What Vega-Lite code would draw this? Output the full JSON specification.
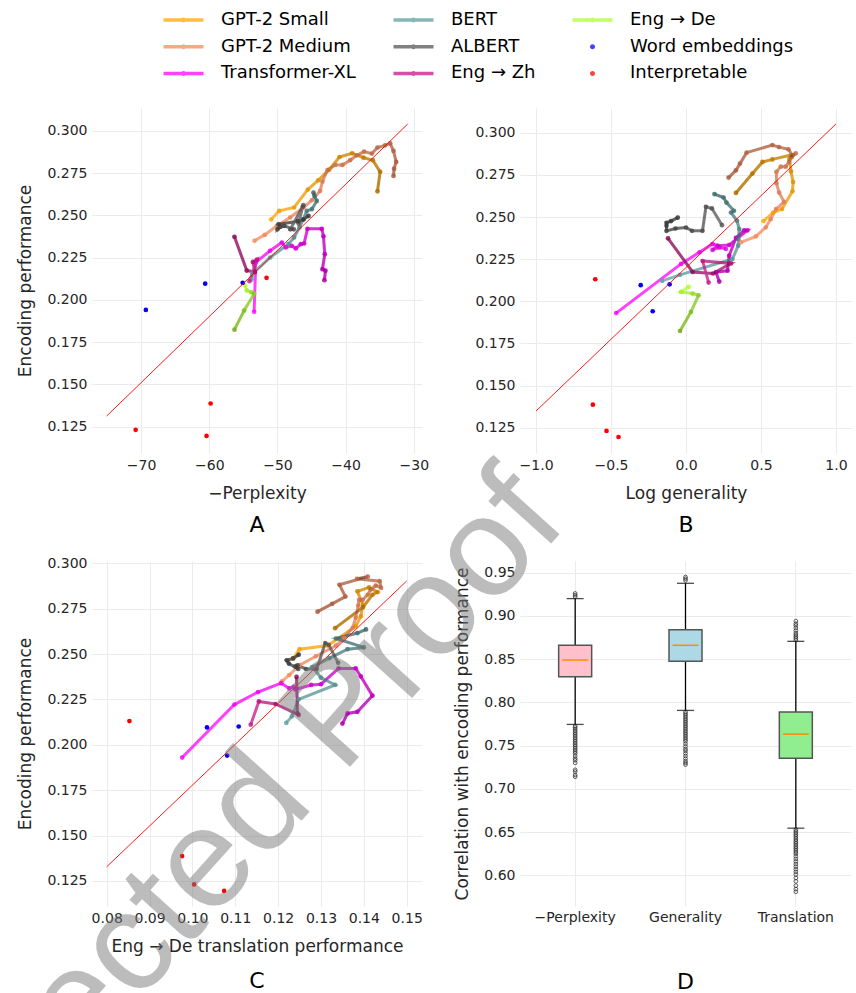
{
"$schema":"https://vega.github.io/schema/vega-lite/v6.json",
"autosize":{"type":"none"},
"padding":{"left":92,"top":108,"right":764,"bottom":885},
"title":{"text":"Corrected Proof","font":"Liberation Sans","fontSize":142,"fontWeight":"normal","color":"rgba(122,122,122,0.5)","angle":-48,"align":"center","baseline":"middle","anchor":"start","frame":"group","orient":"top","offset":-846,"dx":-558,"dy":650.4},
"config":{
 "view":{"stroke":null},
 "font":"DejaVu Sans",
 "axis":{"grid":true,"gridColor":"#EBEBEB","gridWidth":1,"domain":false,"ticks":false,"tickSize":0,"labelFontSize":14,"labelColor":"#262626","labelPadding":5,"titleFontSize":17,"titleFontWeight":"normal","titleColor":"#262626","titlePadding":13},
 "axisY":{"titlePadding":12},
 "title":{"fontSize":22,"fontWeight":"normal","orient":"bottom","color":"#000000","anchor":"middle"}
},
"datasets":{
 "layers":[
  {"m":"GPT-2 Small","l":1,"ppl":-50.93,"gen":0.517,"tr":0.1235,"enc":0.2476},
  {"m":"GPT-2 Small","l":2,"ppl":-49.76,"gen":0.581,"tr":0.125,"enc":0.2527},
  {"m":"GPT-2 Small","l":3,"ppl":-47.56,"gen":0.64,"tr":0.1316,"enc":0.2547},
  {"m":"GPT-2 Small","l":4,"ppl":-45.55,"gen":0.71,"tr":0.1381,"enc":0.2653},
  {"m":"GPT-2 Small","l":5,"ppl":-44.03,"gen":0.714,"tr":0.1393,"enc":0.2708},
  {"m":"GPT-2 Small","l":6,"ppl":-42.42,"gen":0.7,"tr":0.1398,"enc":0.2771},
  {"m":"GPT-2 Small","l":7,"ppl":-40.9,"gen":0.69,"tr":0.1385,"enc":0.2846},
  {"m":"GPT-2 Small","l":8,"ppl":-39.05,"gen":0.7,"tr":0.1412,"enc":0.2868},
  {"m":"GPT-2 Small","l":9,"ppl":-37.38,"gen":0.576,"tr":0.1432,"enc":0.2842},
  {"m":"GPT-2 Small","l":10,"ppl":-36.01,"gen":0.51,"tr":0.142,"enc":0.2827},
  {"m":"GPT-2 Small","l":11,"ppl":-34.94,"gen":0.443,"tr":0.1398,"enc":0.2758},
  {"m":"GPT-2 Small","l":12,"ppl":-35.33,"gen":0.333,"tr":0.1333,"enc":0.2643},
  {"m":"GPT-2 Medium","l":1,"ppl":-53.37,"gen":0.366,"tr":0.1209,"enc":0.235},
  {"m":"GPT-2 Medium","l":2,"ppl":-51.86,"gen":0.466,"tr":0.1226,"enc":0.2385},
  {"m":"GPT-2 Medium","l":3,"ppl":-50.1,"gen":0.532,"tr":0.125,"enc":0.2439},
  {"m":"GPT-2 Medium","l":4,"ppl":-48.14,"gen":0.565,"tr":0.1288,"enc":0.2488},
  {"m":"GPT-2 Medium","l":5,"ppl":-46.19,"gen":0.6,"tr":0.1335,"enc":0.2547},
  {"m":"GPT-2 Medium","l":6,"ppl":-44.96,"gen":0.654,"tr":0.1354,"enc":0.259},
  {"m":"GPT-2 Medium","l":7,"ppl":-43.74,"gen":0.621,"tr":0.1374,"enc":0.2645},
  {"m":"GPT-2 Medium","l":8,"ppl":-43.4,"gen":0.603,"tr":0.1381,"enc":0.2701},
  {"m":"GPT-2 Medium","l":9,"ppl":-42.67,"gen":0.603,"tr":0.1387,"enc":0.2768},
  {"m":"GPT-2 Medium","l":10,"ppl":-41.54,"gen":0.632,"tr":0.1389,"enc":0.2799},
  {"m":"GPT-2 Medium","l":11,"ppl":-40.46,"gen":0.665,"tr":0.1397,"enc":0.2799},
  {"m":"GPT-2 Medium","l":12,"ppl":-39.34,"gen":0.687,"tr":0.1409,"enc":0.2827},
  {"m":"GPT-2 Medium","l":13,"ppl":-38.36,"gen":0.705,"tr":0.1416,"enc":0.2856},
  {"m":"GPT-2 Medium","l":14,"ppl":-37.29,"gen":0.732,"tr":0.1428,"enc":0.2878},
  {"m":"GPT-2 Medium","l":15,"ppl":-36.16,"gen":0.71,"tr":0.144,"enc":0.2866},
  {"m":"GPT-2 Medium","l":16,"ppl":-35.33,"gen":0.683,"tr":0.1437,"enc":0.2902},
  {"m":"GPT-2 Medium","l":17,"ppl":-34.21,"gen":0.62,"tr":0.1384,"enc":0.2915},
  {"m":"GPT-2 Medium","l":18,"ppl":-33.47,"gen":0.576,"tr":0.1409,"enc":0.2927},
  {"m":"GPT-2 Medium","l":19,"ppl":-32.98,"gen":0.404,"tr":0.1343,"enc":0.2882},
  {"m":"GPT-2 Medium","l":20,"ppl":-32.59,"gen":0.36,"tr":0.1357,"enc":0.2817},
  {"m":"GPT-2 Medium","l":21,"ppl":-32.89,"gen":0.333,"tr":0.1326,"enc":0.2777},
  {"m":"GPT-2 Medium","l":22,"ppl":-32.98,"gen":0.284,"tr":0.1292,"enc":0.2734},
  {"m":"Transformer-XL","l":1,"ppl":-53.42,"gen":-0.466,"tr":0.0976,"enc":0.193},
  {"m":"Transformer-XL","l":2,"ppl":-53.18,"gen":-0.033,"tr":0.1098,"enc":0.2222},
  {"m":"Transformer-XL","l":3,"ppl":-51.08,"gen":0.09,"tr":0.1153,"enc":0.2291},
  {"m":"Transformer-XL","l":4,"ppl":-49.36,"gen":0.177,"tr":0.1207,"enc":0.234},
  {"m":"Transformer-XL","l":5,"ppl":-48.78,"gen":0.266,"tr":0.1226,"enc":0.2311},
  {"m":"Transformer-XL","l":6,"ppl":-47.9,"gen":0.222,"tr":0.1236,"enc":0.232},
  {"m":"Transformer-XL","l":7,"ppl":-47.31,"gen":0.177,"tr":0.124,"enc":0.2305},
  {"m":"Transformer-XL","l":8,"ppl":-46.58,"gen":0.21,"tr":0.1277,"enc":0.233},
  {"m":"Transformer-XL","l":9,"ppl":-46.09,"gen":0.288,"tr":0.13,"enc":0.2334},
  {"m":"Transformer-XL","l":10,"ppl":-45.6,"gen":0.41,"tr":0.1341,"enc":0.2421},
  {"m":"Transformer-XL","l":11,"ppl":-43.5,"gen":0.388,"tr":0.1381,"enc":0.2421},
  {"m":"Transformer-XL","l":12,"ppl":-43.25,"gen":0.333,"tr":0.1393,"enc":0.2377},
  {"m":"Transformer-XL","l":13,"ppl":-43.06,"gen":0.288,"tr":0.142,"enc":0.2271},
  {"m":"Transformer-XL","l":14,"ppl":-43.4,"gen":0.277,"tr":0.1385,"enc":0.2182},
  {"m":"Transformer-XL","l":15,"ppl":-42.96,"gen":0.2,"tr":0.1362,"enc":0.2173},
  {"m":"Transformer-XL","l":16,"ppl":-43.11,"gen":0.222,"tr":0.135,"enc":0.2117},
  {"m":"BERT","l":1,"ppl":-53.8,"gen":-0.16,"tr":0.1219,"enc":0.2121},
  {"m":"BERT","l":2,"ppl":-53.62,"gen":-0.04,"tr":0.1232,"enc":0.2157},
  {"m":"BERT","l":3,"ppl":-51.08,"gen":0.31,"tr":0.1248,"enc":0.2251},
  {"m":"BERT","l":4,"ppl":-48.39,"gen":0.348,"tr":0.1333,"enc":0.233},
  {"m":"BERT","l":5,"ppl":-47.56,"gen":0.35,"tr":0.13,"enc":0.237},
  {"m":"BERT","l":6,"ppl":-46.78,"gen":0.355,"tr":0.128,"enc":0.2429},
  {"m":"BERT","l":7,"ppl":-46.19,"gen":0.34,"tr":0.132,"enc":0.2478},
  {"m":"BERT","l":8,"ppl":-45.7,"gen":0.3,"tr":0.1362,"enc":0.2527},
  {"m":"BERT","l":9,"ppl":-44.96,"gen":0.32,"tr":0.14,"enc":0.2537},
  {"m":"BERT","l":10,"ppl":-44.23,"gen":0.27,"tr":0.1335,"enc":0.2586},
  {"m":"BERT","l":11,"ppl":-44.57,"gen":0.25,"tr":0.1385,"enc":0.2616},
  {"m":"BERT","l":12,"ppl":-44.72,"gen":0.19,"tr":0.1405,"enc":0.2636},
  {"m":"ALBERT","l":1,"ppl":-46.9,"gen":0.24,"tr":0.134,"enc":0.2452},
  {"m":"ALBERT","l":2,"ppl":-46.3,"gen":0.173,"tr":0.1318,"enc":0.2551},
  {"m":"ALBERT","l":3,"ppl":-46.2,"gen":0.133,"tr":0.131,"enc":0.2561},
  {"m":"ALBERT","l":4,"ppl":-48.1,"gen":0.11,"tr":0.129,"enc":0.2418},
  {"m":"ALBERT","l":5,"ppl":-47.6,"gen":0.04,"tr":0.1265,"enc":0.2418},
  {"m":"ALBERT","l":6,"ppl":-49.0,"gen":0.0,"tr":0.1245,"enc":0.2438},
  {"m":"ALBERT","l":7,"ppl":-49.6,"gen":-0.07,"tr":0.124,"enc":0.2432},
  {"m":"ALBERT","l":8,"ppl":-50.0,"gen":-0.13,"tr":0.1247,"enc":0.2418},
  {"m":"ALBERT","l":9,"ppl":-49.85,"gen":-0.13,"tr":0.1225,"enc":0.2448},
  {"m":"ALBERT","l":10,"ppl":-47.0,"gen":-0.13,"tr":0.122,"enc":0.2466},
  {"m":"ALBERT","l":11,"ppl":-46.2,"gen":-0.1,"tr":0.1235,"enc":0.2476},
  {"m":"ALBERT","l":12,"ppl":-45.45,"gen":-0.055,"tr":0.1248,"enc":0.2497},
  {"m":"Eng → Zh","l":1,"ppl":-54.1,"gen":0.151,"tr":0.1136,"enc":0.2111},
  {"m":"Eng → Zh","l":2,"ppl":-53.0,"gen":0.111,"tr":0.1155,"enc":0.2239},
  {"m":"Eng → Zh","l":3,"ppl":-53.6,"gen":0.3,"tr":0.1194,"enc":0.2225},
  {"m":"Eng → Zh","l":4,"ppl":-53.3,"gen":0.18,"tr":0.1248,"enc":0.2165},
  {"m":"Eng → Zh","l":5,"ppl":-54.5,"gen":0.044,"tr":0.1245,"enc":0.2174},
  {"m":"Eng → Zh","l":6,"ppl":-56.31,"gen":-0.12,"tr":0.1243,"enc":0.2374},
  {"m":"Eng → De","l":1,"ppl":-54.74,"gen":0.018,"tr":null,"enc":0.2086},
  {"m":"Eng → De","l":2,"ppl":-54.5,"gen":-0.033,"tr":null,"enc":0.2056},
  {"m":"Eng → De","l":3,"ppl":-53.86,"gen":0.044,"tr":null,"enc":0.2046},
  {"m":"Eng → De","l":4,"ppl":-53.42,"gen":0.084,"tr":null,"enc":0.2036},
  {"m":"Eng → De","l":5,"ppl":-54.89,"gen":0.033,"tr":null,"enc":0.1937},
  {"m":"Eng → De","l":6,"ppl":-56.31,"gen":-0.04,"tr":null,"enc":0.1824},
  {"m":"Word embeddings","l":1,"ppl":-60.6,"gen":-0.302,"tr":0.1034,"enc":0.2096},
  {"m":"Word embeddings","l":2,"ppl":-55.1,"gen":-0.109,"tr":0.1108,"enc":0.2101},
  {"m":"Word embeddings","l":3,"ppl":-69.3,"gen":-0.222,"tr":0.1081,"enc":0.1941},
  {"m":"Interpretable","l":1,"ppl":-51.6,"gen":-0.605,"tr":0.0853,"enc":0.2131},
  {"m":"Interpretable","l":2,"ppl":-59.8,"gen":-0.621,"tr":0.0976,"enc":0.1387},
  {"m":"Interpretable","l":3,"ppl":-70.8,"gen":-0.53,"tr":0.1004,"enc":0.1231},
  {"m":"Interpretable","l":4,"ppl":-60.4,"gen":-0.45,"tr":0.1074,"enc":0.1195}
 ],
 "fit":[
  {"p":"A","ppl":-75.04,"enc":0.1313},{"p":"A","ppl":-30.9,"enc":0.3041},
  {"p":"B","gen":-1.0,"enc":0.1349},{"p":"B","gen":1.0,"enc":0.3052},
  {"p":"C","tr":0.08,"enc":0.1328},{"p":"C","tr":0.15,"enc":0.2903}
 ],
 "box":[
  {"k":"−Perplexity","lo":0.7745,"q1":0.8296,"med":0.849,"q3":0.866,"hi":0.92},
  {"k":"Generality","lo":0.7907,"q1":0.8475,"med":0.866,"q3":0.884,"hi":0.9377},
  {"k":"Translation","lo":0.6545,"q1":0.7355,"med":0.7633,"q3":0.789,"hi":0.8706}
 ],
 "out":[
  {"k":"−Perplexity","v":0.922},{"k":"−Perplexity","v":0.924},{"k":"−Perplexity","v":0.926},
  {"k":"−Perplexity","v":0.7725},{"k":"−Perplexity","v":0.771},{"k":"−Perplexity","v":0.769},{"k":"−Perplexity","v":0.767},{"k":"−Perplexity","v":0.765},{"k":"−Perplexity","v":0.763},{"k":"−Perplexity","v":0.761},{"k":"−Perplexity","v":0.759},{"k":"−Perplexity","v":0.757},{"k":"−Perplexity","v":0.755},{"k":"−Perplexity","v":0.753},{"k":"−Perplexity","v":0.751},{"k":"−Perplexity","v":0.749},{"k":"−Perplexity","v":0.747},{"k":"−Perplexity","v":0.745},{"k":"−Perplexity","v":0.743},{"k":"−Perplexity","v":0.741},{"k":"−Perplexity","v":0.738},{"k":"−Perplexity","v":0.735},{"k":"−Perplexity","v":0.733},{"k":"−Perplexity","v":0.73},{"k":"−Perplexity","v":0.722},{"k":"−Perplexity","v":0.72},{"k":"−Perplexity","v":0.716},{"k":"−Perplexity","v":0.714},
  {"k":"Generality","v":0.941},{"k":"Generality","v":0.943},{"k":"Generality","v":0.945},
  {"k":"Generality","v":0.789},{"k":"Generality","v":0.787},{"k":"Generality","v":0.785},{"k":"Generality","v":0.783},{"k":"Generality","v":0.781},{"k":"Generality","v":0.779},{"k":"Generality","v":0.777},{"k":"Generality","v":0.775},{"k":"Generality","v":0.773},{"k":"Generality","v":0.771},{"k":"Generality","v":0.769},{"k":"Generality","v":0.767},{"k":"Generality","v":0.765},{"k":"Generality","v":0.763},{"k":"Generality","v":0.761},{"k":"Generality","v":0.759},{"k":"Generality","v":0.757},{"k":"Generality","v":0.755},{"k":"Generality","v":0.752},{"k":"Generality","v":0.749},{"k":"Generality","v":0.746},{"k":"Generality","v":0.744},{"k":"Generality","v":0.741},{"k":"Generality","v":0.738},{"k":"Generality","v":0.735},{"k":"Generality","v":0.732},{"k":"Generality","v":0.73},{"k":"Generality","v":0.728},
  {"k":"Translation","v":0.872},{"k":"Translation","v":0.874},{"k":"Translation","v":0.876},{"k":"Translation","v":0.878},{"k":"Translation","v":0.88},{"k":"Translation","v":0.883},{"k":"Translation","v":0.886},{"k":"Translation","v":0.889},{"k":"Translation","v":0.891},{"k":"Translation","v":0.894},
  {"k":"Translation","v":0.653},{"k":"Translation","v":0.651},{"k":"Translation","v":0.649},{"k":"Translation","v":0.647},{"k":"Translation","v":0.645},{"k":"Translation","v":0.643},{"k":"Translation","v":0.641},{"k":"Translation","v":0.639},{"k":"Translation","v":0.637},{"k":"Translation","v":0.635},{"k":"Translation","v":0.633},{"k":"Translation","v":0.631},{"k":"Translation","v":0.629},{"k":"Translation","v":0.627},{"k":"Translation","v":0.625},{"k":"Translation","v":0.622},{"k":"Translation","v":0.619},{"k":"Translation","v":0.616},{"k":"Translation","v":0.613},{"k":"Translation","v":0.61},{"k":"Translation","v":0.607},{"k":"Translation","v":0.604},{"k":"Translation","v":0.601},{"k":"Translation","v":0.597},{"k":"Translation","v":0.593},{"k":"Translation","v":0.588},{"k":"Translation","v":0.584},{"k":"Translation","v":0.581}
 ]
},
"columns":2,
"spacing":{"row":108,"column":98},
"bounds":"flush",
"concat":[
 {
  "width":330,"height":345,
  "title":{"text":"A","offset":14},
  "data":{"name":"layers"},
  "encoding":{
   "x":{"field":"ppl","type":"quantitative","scale":{"domain":[-77.2,-28.8],"nice":false,"zero":false},"axis":{"values":[-70,-60,-50,-40,-30],"format":"d","title":"−Perplexity"}},
   "y":{"field":"enc","type":"quantitative","scale":{"domain":[0.1094,0.3136],"nice":false,"zero":false},"axis":{"values":[0.125,0.15,0.175,0.2,0.225,0.25,0.275,0.3],"format":".3f","title":"Encoding performance"}}
  },
  "layer":[
   {"transform":[{"filter":"false"}],"mark":{"type":"point","filled":true},
    "encoding":{
     "color":{"field":"m","type":"nominal","scale":{"domain":["GPT-2 Small","GPT-2 Medium","Transformer-XL","BERT","ALBERT","Eng → Zh","Eng → De","Word embeddings","Interpretable"],"range":["#FFA500","#F58B5F","#FF00FF","#5F9EA0","#555555","#C71585","#ADFF2F","#0000FF","#FF0000"]},
      "legend":{"title":null,"orient":"none","legendX":82.5,"legendY":-97,"columns":3,"columnPadding":37,"rowPadding":8.7,"labelFontSize":18,"labelColor":"#000000","labelOffset":28.5,"symbolSize":100,"symbolStrokeWidth":0,"padding":0,"labelLimit":300}},
     "shape":{"field":"m","type":"nominal","scale":{"domain":["GPT-2 Small","GPT-2 Medium","Transformer-XL","BERT","ALBERT","Eng → Zh","Eng → De","Word embeddings","Interpretable"],"range":["M-4,-0.35H4V0.35H-4Z M-0.5,0A0.5,0.5,0,1,1,0.5,0A0.5,0.5,0,1,1,-0.5,0Z","M-4,-0.35H4V0.35H-4Z M-0.5,0A0.5,0.5,0,1,1,0.5,0A0.5,0.5,0,1,1,-0.5,0Z","M-4,-0.35H4V0.35H-4Z M-0.5,0A0.5,0.5,0,1,1,0.5,0A0.5,0.5,0,1,1,-0.5,0Z","M-4,-0.35H4V0.35H-4Z M-0.5,0A0.5,0.5,0,1,1,0.5,0A0.5,0.5,0,1,1,-0.5,0Z","M-4,-0.35H4V0.35H-4Z M-0.5,0A0.5,0.5,0,1,1,0.5,0A0.5,0.5,0,1,1,-0.5,0Z","M-4,-0.35H4V0.35H-4Z M-0.5,0A0.5,0.5,0,1,1,0.5,0A0.5,0.5,0,1,1,-0.5,0Z","M-4,-0.35H4V0.35H-4Z M-0.5,0A0.5,0.5,0,1,1,0.5,0A0.5,0.5,0,1,1,-0.5,0Z","M-0.5,0A0.5,0.5,0,1,1,0.5,0A0.5,0.5,0,1,1,-0.5,0Z","M-0.5,0A0.5,0.5,0,1,1,0.5,0A0.5,0.5,0,1,1,-0.5,0Z"]},
      "legend":{"title":null,"orient":"none","legendX":82.5,"legendY":-97,"columns":3,"columnPadding":37,"rowPadding":8.7,"labelFontSize":18,"labelColor":"#000000","labelOffset":28.5,"symbolSize":100,"symbolStrokeWidth":0,"padding":0,"labelLimit":300}},
     "opacity":{"field":"m","type":"nominal","scale":{"domain":["GPT-2 Small","GPT-2 Medium","Transformer-XL","BERT","ALBERT","Eng → Zh","Eng → De","Word embeddings","Interpretable"],"range":[0.75,0.75,0.75,0.6,0.75,0.75,0.75,1,1]},
      "legend":{"title":null,"orient":"none","legendX":82.5,"legendY":-97,"columns":3,"columnPadding":37,"rowPadding":8.7,"labelFontSize":18,"labelColor":"#000000","labelOffset":28.5,"symbolSize":100,"symbolStrokeWidth":0,"padding":0,"labelLimit":300}}
    }},
   {"transform":[{"filter":"datum.m != 'Word embeddings' && datum.m != 'Interpretable'"}],"mark":{"type":"line","strokeWidth":3,"opacity":0.75},
    "encoding":{"color":{"field":"m","type":"nominal","legend":null},"order":{"field":"l","type":"quantitative"}}},
   {"transform":[{"filter":"datum.m != 'Word embeddings' && datum.m != 'Interpretable'"},{"window":[{"op":"lead","field":"ppl","as":"x2v"},{"op":"lead","field":"enc","as":"y2v"}],"groupby":["m"],"sort":[{"field":"l","order":"ascending"}]},{"joinaggregate":[{"op":"max","field":"l","as":"n"}],"groupby":["m"]},{"calculate":"(datum.l-1)/(datum.n-1)","as":"frac"},{"filter":"datum.x2v != null"}],
    "mark":{"type":"rule","color":"#000000","strokeWidth":3},
    "encoding":{"x2":{"field":"x2v"},"y2":{"field":"y2v"},"strokeOpacity":{"field":"frac","type":"quantitative","scale":{"domain":[0,1],"range":[0,0.28]},"legend":null}}},
   {"transform":[{"filter":"datum.m != 'Word embeddings' && datum.m != 'Interpretable'"}],"mark":{"type":"circle","size":22,"opacity":0.8},
    "encoding":{"color":{"field":"m","type":"nominal","legend":null}}},
   {"transform":[{"filter":"datum.m != 'Word embeddings' && datum.m != 'Interpretable'"},{"joinaggregate":[{"op":"max","field":"l","as":"n"}],"groupby":["m"]},{"calculate":"(datum.l-1)/(datum.n-1)","as":"frac"}],
    "mark":{"type":"circle","size":22,"color":"#000000","opacity":1},
    "encoding":{"fillOpacity":{"field":"frac","type":"quantitative","scale":{"domain":[0,1],"range":[0,0.28]},"legend":null}}},
   {"transform":[{"filter":"datum.m == 'Word embeddings' || datum.m == 'Interpretable'"}],"mark":{"type":"circle","size":22,"opacity":1},
    "encoding":{"color":{"field":"m","type":"nominal","legend":null}}},
   {"data":{"name":"fit"},"transform":[{"filter":"datum.p == 'A'"}],"mark":{"type":"line","color":"#FF0000","strokeWidth":0.9},"encoding":{}}
  ]
 },
 {
  "width":332,"height":345,
  "title":{"text":"B","offset":14},
  "data":{"name":"layers"},
  "encoding":{
   "x":{"field":"gen","type":"quantitative","scale":{"domain":[-1.107,1.107],"nice":false,"zero":false},"axis":{"values":[-1,-0.5,0,0.5,1],"format":".1f","title":"Log generality"}},
   "y":{"field":"enc","type":"quantitative","scale":{"domain":[0.11,0.3147],"nice":false,"zero":false},"axis":{"values":[0.125,0.15,0.175,0.2,0.225,0.25,0.275,0.3],"format":".3f","title":null}}
  },
  "layer":[
   {"transform":[{"filter":"datum.m != 'Word embeddings' && datum.m != 'Interpretable'"}],"mark":{"type":"line","strokeWidth":3,"opacity":0.75},
    "encoding":{"color":{"field":"m","type":"nominal","legend":null},"order":{"field":"l","type":"quantitative"}}},
   {"transform":[{"filter":"datum.m != 'Word embeddings' && datum.m != 'Interpretable'"},{"window":[{"op":"lead","field":"gen","as":"x2v"},{"op":"lead","field":"enc","as":"y2v"}],"groupby":["m"],"sort":[{"field":"l","order":"ascending"}]},{"joinaggregate":[{"op":"max","field":"l","as":"n"}],"groupby":["m"]},{"calculate":"(datum.l-1)/(datum.n-1)","as":"frac"},{"filter":"datum.x2v != null"}],
    "mark":{"type":"rule","color":"#000000","strokeWidth":3},
    "encoding":{"x2":{"field":"x2v"},"y2":{"field":"y2v"},"strokeOpacity":{"field":"frac","type":"quantitative","scale":{"domain":[0,1],"range":[0,0.28]},"legend":null}}},
   {"transform":[{"filter":"datum.m != 'Word embeddings' && datum.m != 'Interpretable'"}],"mark":{"type":"circle","size":22,"opacity":0.8},
    "encoding":{"color":{"field":"m","type":"nominal","legend":null}}},
   {"transform":[{"filter":"datum.m != 'Word embeddings' && datum.m != 'Interpretable'"},{"joinaggregate":[{"op":"max","field":"l","as":"n"}],"groupby":["m"]},{"calculate":"(datum.l-1)/(datum.n-1)","as":"frac"}],
    "mark":{"type":"circle","size":22,"color":"#000000","opacity":1},
    "encoding":{"fillOpacity":{"field":"frac","type":"quantitative","scale":{"domain":[0,1],"range":[0,0.28]},"legend":null}}},
   {"transform":[{"filter":"datum.m == 'Word embeddings' || datum.m == 'Interpretable'"}],"mark":{"type":"circle","size":22,"opacity":1},
    "encoding":{"color":{"field":"m","type":"nominal","legend":null}}},
   {"data":{"name":"fit"},"transform":[{"filter":"datum.p == 'B'"}],"mark":{"type":"line","color":"#FF0000","strokeWidth":0.9},"encoding":{}}
  ]
 },
 {
  "width":330,"height":345,
  "title":{"text":"C","offset":17},
  "data":{"name":"layers"},
  "encoding":{
   "x":{"field":"tr","type":"quantitative","scale":{"domain":[0.07657,0.15357],"nice":false,"zero":false},"axis":{"values":[0.08,0.09,0.1,0.11,0.12,0.13,0.14,0.15],"format":".2f","title":"Eng → De translation performance"}},
   "y":{"field":"enc","type":"quantitative","scale":{"domain":[0.1112,0.3013],"nice":false,"zero":false},"axis":{"values":[0.125,0.15,0.175,0.2,0.225,0.25,0.275,0.3],"format":".3f","title":"Encoding performance"}}
  },
  "layer":[
   {"transform":[{"filter":"datum.m != 'Word embeddings' && datum.m != 'Interpretable' && datum.tr != null"}],"mark":{"type":"line","strokeWidth":3,"opacity":0.75},
    "encoding":{"color":{"field":"m","type":"nominal","legend":null},"order":{"field":"l","type":"quantitative"}}},
   {"transform":[{"filter":"datum.m != 'Word embeddings' && datum.m != 'Interpretable' && datum.tr != null"},{"window":[{"op":"lead","field":"tr","as":"x2v"},{"op":"lead","field":"enc","as":"y2v"}],"groupby":["m"],"sort":[{"field":"l","order":"ascending"}]},{"joinaggregate":[{"op":"max","field":"l","as":"n"}],"groupby":["m"]},{"calculate":"(datum.l-1)/(datum.n-1)","as":"frac"},{"filter":"datum.x2v != null"}],
    "mark":{"type":"rule","color":"#000000","strokeWidth":3},
    "encoding":{"x2":{"field":"x2v"},"y2":{"field":"y2v"},"strokeOpacity":{"field":"frac","type":"quantitative","scale":{"domain":[0,1],"range":[0,0.28]},"legend":null}}},
   {"transform":[{"filter":"datum.m != 'Word embeddings' && datum.m != 'Interpretable' && datum.tr != null"}],"mark":{"type":"circle","size":22,"opacity":0.8},
    "encoding":{"color":{"field":"m","type":"nominal","legend":null}}},
   {"transform":[{"filter":"datum.m != 'Word embeddings' && datum.m != 'Interpretable' && datum.tr != null"},{"joinaggregate":[{"op":"max","field":"l","as":"n"}],"groupby":["m"]},{"calculate":"(datum.l-1)/(datum.n-1)","as":"frac"}],
    "mark":{"type":"circle","size":22,"color":"#000000","opacity":1},
    "encoding":{"fillOpacity":{"field":"frac","type":"quantitative","scale":{"domain":[0,1],"range":[0,0.28]},"legend":null}}},
   {"transform":[{"filter":"datum.m == 'Word embeddings' || datum.m == 'Interpretable'"}],"mark":{"type":"circle","size":22,"opacity":1},
    "encoding":{"color":{"field":"m","type":"nominal","legend":null}}},
   {"data":{"name":"fit"},"transform":[{"filter":"datum.p == 'C'"}],"mark":{"type":"line","color":"#FF0000","strokeWidth":0.9},"encoding":{}}
  ]
 },
 {
  "width":331,"height":345,
  "title":{"text":"D","offset":48},
  "encoding":{
   "x":{"field":"k","type":"nominal","sort":["−Perplexity","Generality","Translation"],"scale":{"paddingInner":0,"paddingOuter":0},"axis":{"title":null,"labelAngle":0,"labelPadding":4}}
  },
  "layer":[
   {"data":{"name":"box"},"mark":{"type":"rule","color":"#000000","strokeWidth":1.3},
    "encoding":{"y":{"field":"lo","type":"quantitative","scale":{"domain":[0.5645,0.9635],"nice":false,"zero":false},"axis":{"values":[0.6,0.65,0.7,0.75,0.8,0.85,0.9,0.95],"format":".2f","title":"Correlation with encoding performance"}},"y2":{"field":"hi"}}},
   {"data":{"name":"box"},"mark":{"type":"tick","color":"#000000","size":17,"thickness":1.3},
    "encoding":{"y":{"field":"lo","type":"quantitative","scale":{"domain":[0.5645,0.9635],"nice":false,"zero":false},"axis":{"values":[0.6,0.65,0.7,0.75,0.8,0.85,0.9,0.95],"format":".2f","title":"Correlation with encoding performance"}}}},
   {"data":{"name":"box"},"mark":{"type":"tick","color":"#000000","size":17,"thickness":1.3},
    "encoding":{"y":{"field":"hi","type":"quantitative","scale":{"domain":[0.5645,0.9635],"nice":false,"zero":false},"axis":{"values":[0.6,0.65,0.7,0.75,0.8,0.85,0.9,0.95],"format":".2f","title":"Correlation with encoding performance"}}}},
   {"data":{"name":"box"},"mark":{"type":"bar","width":33,"stroke":"#555555","strokeWidth":1.5},
    "encoding":{"y":{"field":"q1","type":"quantitative","scale":{"domain":[0.5645,0.9635],"nice":false,"zero":false},"axis":{"values":[0.6,0.65,0.7,0.75,0.8,0.85,0.9,0.95],"format":".2f","title":"Correlation with encoding performance"}},"y2":{"field":"q3"},
     "fill":{"field":"k","type":"nominal","scale":{"domain":["−Perplexity","Generality","Translation"],"range":["#FFC0CB","#ADD8E6","#90EE90"]},"legend":null}}},
   {"data":{"name":"box"},"mark":{"type":"tick","color":"#FF8C00","size":26,"thickness":1.5,"opacity":1},
    "encoding":{"y":{"field":"med","type":"quantitative","scale":{"domain":[0.5645,0.9635],"nice":false,"zero":false},"axis":{"values":[0.6,0.65,0.7,0.75,0.8,0.85,0.9,0.95],"format":".2f","title":"Correlation with encoding performance"}}}},
   {"data":{"name":"out"},"mark":{"type":"point","shape":"circle","filled":false,"size":14,"color":"#222222","strokeWidth":0.7,"opacity":1},
    "encoding":{"y":{"field":"v","type":"quantitative","scale":{"domain":[0.5645,0.9635],"nice":false,"zero":false},"axis":{"values":[0.6,0.65,0.7,0.75,0.8,0.85,0.9,0.95],"format":".2f","title":"Correlation with encoding performance"}}}}
  ]
 }
]
}
